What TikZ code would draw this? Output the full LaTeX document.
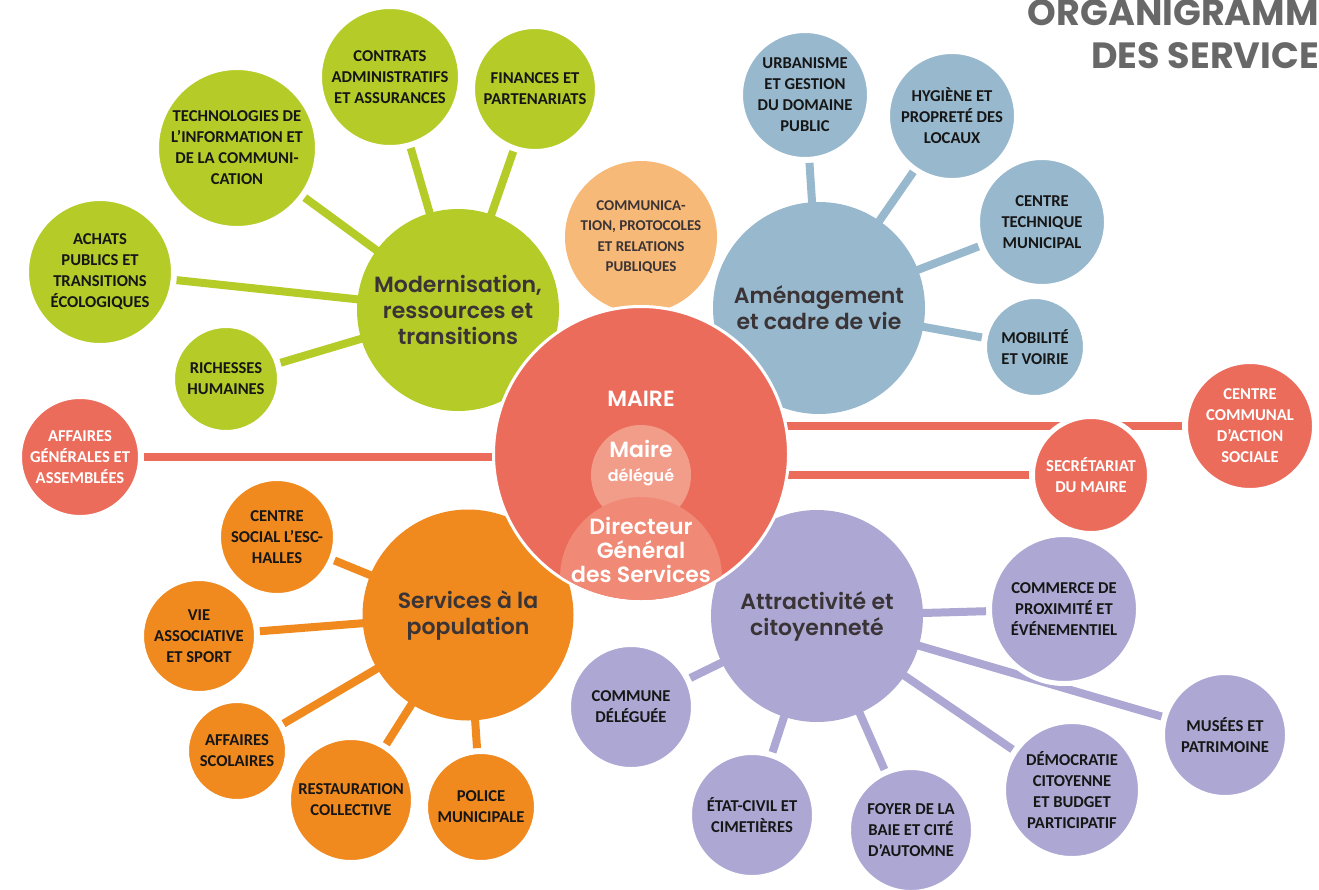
\documentclass[tikz,border=0pt]{standalone}
\usepackage{fontspec}
\usepackage{tikz}
\setmainfont{Carlito}
\newfontfamily\hubfont{Poppins}[UprightFont={* SemiBold},BoldFont={* Bold}]

\definecolor{mairered}{RGB}{236,108,92}
\definecolor{delegpink}{RGB}{242,156,138}
\definecolor{dgsalmon}{RGB}{240,137,117}
\definecolor{modgreen}{RGB}{181,203,39}
\definecolor{commorange}{RGB}{247,185,120}
\definecolor{amenblue}{RGB}{151,184,205}
\definecolor{servorange}{RGB}{240,137,30}
\definecolor{attrpurple}{RGB}{173,168,211}
\definecolor{hubtext}{RGB}{59,52,54}
\definecolor{sattext}{RGB}{22,22,22}
\definecolor{titlegray}{RGB}{104,104,104}

\pgfdeclarelayer{bg}
\pgfsetlayers{bg,main}

\tikzset{
  hub/.style={circle, inner sep=0pt, align=center, text=hubtext,
    font=\hubfont\fontsize{22}{26}\selectfont},
  sat/.style={circle, draw=white, line width=5pt, inner sep=0pt, align=center,
    text=sattext, font=\bfseries\fontsize{16.6}{21}\selectfont},
  greensat/.style={sat, fill=modgreen},
  bluesat/.style={sat, fill=amenblue},
  redsat/.style={sat, fill=mairered, text=white},
  orangesat/.style={sat, fill=servorange},
  purplesat/.style={sat, fill=attrpurple},
  link/.style={line width=8pt, shorten >=1pt},
  whitetext/.style={inner sep=0pt, align=center, text=white,
    font=\hubfont\fontsize{22}{24}\selectfont},
  titletext/.style={inner sep=0pt, text=titlegray,
    font=\hubfont\bfseries\fontsize{36.5}{40}\selectfont}
}

\begin{document}
\begin{tikzpicture}[x=1pt,y=-1pt]
\useasboundingbox (0,0) rectangle (1319,889);

% title
\node[titletext, anchor=base east] (title1) at (1319,25) {ORGANIGRAMM};
\node[titletext, anchor=base east] (title2) at (1319,68) {DES SERVICE};

% poles
\node[hub, fill=modgreen, minimum size=202] (modern) at (458,310) {Modernisation,\\ressources et\\transitions};
\node[hub, fill=amenblue, minimum size=212] (amenag) at (819,308) {Aménagement\\et cadre de vie};
\node[hub, fill=servorange, minimum size=211] (services) at (468,615) {Services à la\\population};
\node[hub, fill=attrpurple, minimum size=212] (attract) at (817,616) {Attractivité et\\citoyenneté};
\node[sat, draw=none, fill=commorange, text=hubtext, minimum size=152,
  font=\bfseries\fontsize{15}{20.5}\selectfont] (comm) at (641,237) {COMMUNICA-\\TION, PROTOCOLES\\ET RELATIONS\\PUBLIQUES};

% modernisation
\node[greensat, minimum size=161] (tic) at (237,148) {TECHNOLOGIES DE\\L’INFORMATION ET\\DE LA COMMUNI-\\CATION};
\node[greensat, minimum size=141] (contrats) at (390,77) {CONTRATS\\ADMINISTRATIFS\\ET ASSURANCES};
\node[greensat, minimum size=125] (finances) at (535,89) {FINANCES ET\\PARTENARIATS};
\node[greensat, minimum size=147] (achats) at (100,272) {ACHATS\\PUBLICS ET\\TRANSITIONS\\ÉCOLOGIQUES};
\node[greensat, minimum size=107] (richesses) at (226,379) {RICHESSES\\HUMAINES};

% amenagement
\node[bluesat, minimum size=129] (urban) at (805,95) {URBANISME\\ET GESTION\\DU DOMAINE\\PUBLIC};
\node[bluesat, minimum size=129] (hygiene) at (952,116) {HYGIÈNE ET\\PROPRETÉ DES\\LOCAUX};
\node[bluesat, minimum size=129] (ctm) at (1042,222) {CENTRE\\TECHNIQUE\\MUNICIPAL};
\node[bluesat, minimum size=101] (mobil) at (1035,347) {MOBILITÉ\\ET VOIRIE};

% rattaches au maire
\node[redsat, minimum size=121] (affaires) at (80,457) {AFFAIRES\\GÉNÉRALES ET\\ASSEMBLÉES};
\node[redsat, minimum size=129] (ccas) at (1250,426) {CENTRE\\COMMUNAL\\D’ACTION\\SOCIALE};
\node[redsat, minimum size=117] (secr) at (1091,475) {SECRÉTARIAT\\DU MAIRE};

% services a la population
\node[orangesat, minimum size=117] (social) at (277,537) {CENTRE\\SOCIAL L’ESC-\\HALLES};
\node[orangesat, minimum size=115] (vie) at (199,636) {VIE\\ASSOCIATIVE\\ET SPORT};
\node[orangesat, minimum size=101] (scol) at (237,751) {AFFAIRES\\SCOLAIRES};
\node[orangesat, minimum size=125] (resto) at (351,800) {RESTAURATION\\COLLECTIVE};
\node[orangesat, minimum size=111] (police) at (481,807) {POLICE\\MUNICIPALE};

% attractivite
\node[purplesat, minimum size=125] (commune) at (631,707) {COMMUNE\\DÉLÉGUÉE};
\node[purplesat, minimum size=125] (etat) at (752,815) {ÉTAT-CIVIL ET\\CIMETIÈRES};
\node[purplesat, minimum size=125] (foyer) at (911,830) {FOYER DE LA\\BAIE ET CITÉ\\D’AUTOMNE};
\node[purplesat, minimum size=149] (commerce) at (1064,609) {COMMERCE DE\\PROXIMITÉ ET\\ÉVÉNEMENTIEL};
\node[purplesat, minimum size=125] (musees) at (1225,735) {MUSÉES ET\\PATRIMOINE};
\node[purplesat, minimum size=137] (democ) at (1072,790) {DÉMOCRATIE\\CITOYENNE\\ET BUDGET\\PARTICIPATIF};

% maire
\node[circle, draw=white, line width=3pt, fill=mairered, minimum size=295] (maire) at (641,454) {};
\node[circle, fill=delegpink, minimum size=100] (deleg) at (641,475) {};
\begin{scope}
  \clip (maire.center) circle (146pt);
  \node[circle, fill=dgsalmon, minimum size=162] (dg) at (641,578) {};
\end{scope}
\node[whitetext] (mairetext) at (641,399) {MAIRE};
\node[whitetext] (delegtext) at (641,463) {Maire\\{\fontsize{16}{18}\selectfont délégué}};
\node[whitetext] (dgtext) at (641,550) {Directeur\\Général\\des Services};

\begin{pgfonlayer}{bg}
  \draw[link, modgreen] (modern.center) -- (tic);
  \draw[link, modgreen] (modern.center) -- (contrats);
  \draw[link, modgreen] (modern.center) -- (finances);
  \draw[link, modgreen] (modern.center) -- (achats);
  \draw[link, modgreen] (modern.center) -- (richesses);
  \draw[link, amenblue] (amenag.center) -- (urban);
  \draw[link, amenblue] (amenag.center) -- (hygiene);
  \draw[link, amenblue] (amenag.center) -- (ctm);
  \draw[link, amenblue] (amenag.center) -- (mobil);
  \draw[link, mairered] (maire.center |- affaires) -- (affaires);
  \draw[link, mairered] (maire.center |- ccas) -- (ccas);
  \draw[link, mairered] (maire.center |- secr) -- (secr);
  \draw[link, servorange] (services.center) -- (social);
  \draw[link, servorange] (services.center) -- (vie);
  \draw[link, servorange] (services.center) -- (scol);
  \draw[link, servorange] (services.center) -- (resto);
  \draw[link, servorange] (services.center) -- (police);
  \draw[link, attrpurple] (attract.center) -- (commune);
  \draw[link, attrpurple] (attract.center) -- (etat);
  \draw[link, attrpurple] (attract.center) -- (foyer);
  \draw[link, attrpurple] (attract.center) -- (commerce);
  \draw[link, attrpurple] (attract.center) -- (musees);
  \draw[link, attrpurple] (attract.center) -- (democ);
\end{pgfonlayer}
\end{tikzpicture}
\end{document}
